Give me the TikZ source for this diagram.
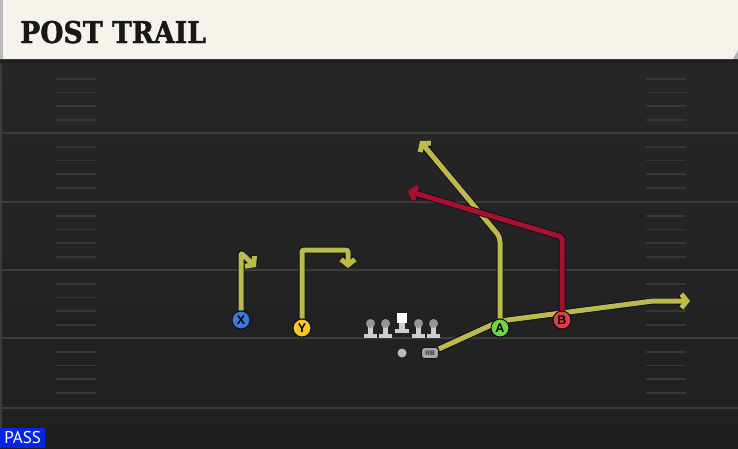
\documentclass[tikz,border=0pt]{standalone}
\usepackage{fontspec}
\usetikzlibrary{arrows.meta}

\newfontfamily\titlefont{DejaVu Serif Bold}[FakeStretch=0.89,FakeBold=1.2]
\newfontfamily\labelfont{Liberation Sans}
\newfontfamily\passfont{PT Sans}

\definecolor{fieldtop}{RGB}{39,39,39}
\definecolor{fieldbot}{RGB}{32,32,32}
\definecolor{yardline}{RGB}{60,60,60}
\definecolor{hashgray}{RGB}{55,55,55}
\definecolor{titlebg}{RGB}{245,243,236}
\definecolor{titletext}{RGB}{24,24,24}
\definecolor{outline}{RGB}{14,14,24}
\definecolor{routeyellow}{RGB}{189,186,76}
\definecolor{routered}{RGB}{168,17,46}
\definecolor{xblue}{RGB}{62,122,215}
\definecolor{yyellow}{RGB}{245,200,32}
\definecolor{agreen}{RGB}{112,214,72}
\definecolor{bred}{RGB}{226,60,66}
\definecolor{passblue}{RGB}{8,38,225}
\definecolor{linebody}{RGB}{205,205,205}
\definecolor{linehead}{RGB}{150,150,150}

\pgfdeclarelayer{field}
\pgfdeclarelayer{routes}
\pgfsetlayers{field,routes,main}

\tikzset{
    yard/.style={draw=yardline, line width=2pt},
    hashmark/.style={draw=hashgray, line width=1.6pt},
    route/.style={line width=5pt, line join=round, rounded corners=2pt,
        preaction={draw=outline, line width=6.8pt},
        -{Straight Barb[length=5.5pt,width=14pt,line join=miter]}},
    yellowroute/.style={route, draw=routeyellow},
    redroute/.style={route, draw=routered},
    player/.style={circle, draw=outline, line width=1pt, minimum size=18pt, inner sep=0pt,
        text=black, font=\labelfont\bfseries\fontsize{12.5}{12.5}\selectfont},
    lineman/.style={minimum width=15pt, minimum height=19pt, inner sep=0pt, outer sep=0pt,
        path picture={
            \fill[linebody] ([xshift=-6.5pt]path picture bounding box.south) rectangle ([xshift=6.5pt,yshift=4.5pt]path picture bounding box.south);
            \fill[linebody] ([xshift=-2.8pt]path picture bounding box.south) rectangle ([xshift=2.8pt,yshift=-6pt]path picture bounding box.north);
            \fill[linehead] ([yshift=-4.5pt]path picture bounding box.north) circle[radius=4.5pt];
        }},
    centerman/.style={minimum width=18pt, minimum height=20pt, inner sep=0pt, outer sep=0pt,
        path picture={
            \fill[linebody] ([xshift=-7pt]path picture bounding box.south) rectangle ([xshift=7pt,yshift=4.5pt]path picture bounding box.south);
            \fill[linebody] ([xshift=-2.8pt]path picture bounding box.south) rectangle ([xshift=2.8pt,yshift=-8pt]path picture bounding box.north);
            \fill[white] ([xshift=-5pt]path picture bounding box.north) rectangle ([xshift=5pt,yshift=-9.5pt]path picture bounding box.north);
        }},
}

\begin{document}
\begin{tikzpicture}[x=1pt,y=-1pt]
    \useasboundingbox (0,0) rectangle (738,448);

    % Spielfeld
    \begin{pgfonlayer}{field}
        \fill[top color=fieldtop, bottom color=fieldbot] (0,59) rectangle (738,448);
        \fill[black!88] (0,59) rectangle (738,63);
        \draw[yard, draw=yardline!110] (0,65) -- (738,65);
        \foreach \yl in {133,202,270,338,408}
            \draw[yard] (0,\yl) -- (738,\yl);
        \foreach \yl in {65,133,202,270,338} {
            \foreach \k in {1,...,4} {
                \draw[hashmark] (56,{\yl+13.7*\k}) -- (96,{\yl+13.7*\k});
                \draw[hashmark] (646,{\yl+13.7*\k}) -- (686,{\yl+13.7*\k});
            }
        }
        \draw[draw=yardline, line width=1.5pt] (1,63) -- (1,428);

        % Titelleiste
        \fill[titlebg] (0,0) -- (738,0) -- (738,50) -- (733,59) -- (0,59) -- cycle;
        \fill[gray!55] (0,0) rectangle (3,59);
        \fill[gray!60] (738,50) -- (738,59) -- (733,59) -- cycle;
    \end{pgfonlayer}

    \node[anchor=base west, inner sep=0pt, text=titletext,
        font=\titlefont\fontsize{30}{30}\selectfont] (title) at (20,43) {POST TRAIL};
    \node[anchor=south west, fill=passblue, text=white, inner sep=0pt, minimum width=45pt, minimum height=20pt,
        font=\passfont\fontsize{17}{17}\selectfont] (pass) at (0,448) {PASS};

    % Linie
    \node[centerman] (c) at (402,323) {};
    \node[lineman] (lg) at ([yshift=-5pt]c.south west) [anchor=south east] {};
    \node[lineman] (lt) at (lg.south west) [anchor=south east] {};
    \node[lineman] (rg) at ([yshift=-5pt]c.south east) [anchor=south west] {};
    \node[lineman] (rt) at (rg.south east) [anchor=south west] {};

    % Backfield
    \node[circle, fill=gray!55, minimum size=9pt, inner sep=0pt] (qb) at (402,353) {};
    \node[rounded corners=3pt, fill=gray!70, draw=outline, line width=0.8pt, minimum width=17pt, minimum height=11pt,
        inner sep=0pt, text=black!80, font=\labelfont\bfseries\fontsize{6.5}{6.5}\selectfont] (rb) at (430,353) {RB};

    % Receiver
    \node[player, fill=xblue] (x) at (241,320) {X};
    \node[player, fill=yyellow] (y) at (302,328) {Y};
    \node[player, fill=agreen] (a) at (500,328) {A};
    \node[player, fill=bred] (b) at (562,320) {B};

    % Routen
    \coordinate (x1) at (241,253);
    \coordinate (x2) at (256,267);
    \coordinate (y1) at (302,250);
    \coordinate (y2) at (348,250);
    \coordinate (y3) at (348,268);
    \coordinate (a1) at (500,237);
    \coordinate (a2) at (420,141);
    \coordinate (rb1) at (500,321);
    \coordinate (rb2) at (653,301);
    \coordinate (rb3) at (690,301);
    \coordinate (b1) at (562,237);
    \coordinate (b2) at (408,191);

    \begin{pgfonlayer}{routes}
        \draw[yellowroute] (x) -- (x1) -- (x2);
        \draw[yellowroute] (y) -- (y1) -- (y2) -- (y3);
        \draw[yellowroute] (rb) -- (rb1) -- (rb2) -- (rb3);
        \draw[yellowroute, rounded corners=5pt] (a) -- (a1) -- (a2);
        \draw[redroute] (b) -- (b1) -- (b2);
    \end{pgfonlayer}
\end{tikzpicture}
\end{document}
